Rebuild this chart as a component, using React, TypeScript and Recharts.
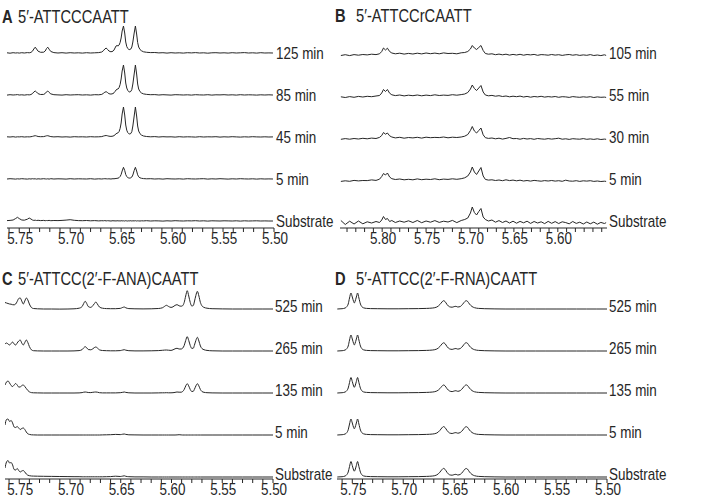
import { LineChart, Line, XAxis, YAxis } from "recharts";

const FONT = "'Liberation Sans', Arial, sans-serif";
const INK = "#262626";
const STEP = 42;
const SX = 0.84; // the figure uses a condensed sans, so squeeze the glyphs a bit

// ---- Panel A: 5'-ATTCCCAATT ----
const ppmA = [
  5.762, 5.759, 5.756, 5.7535, 5.7517, 5.75, 5.7475, 5.745, 5.742, 5.7402,
  5.7385, 5.737, 5.7357, 5.7343, 5.733, 5.7315, 5.729, 5.726, 5.7245, 5.7232,
  5.722, 5.7207, 5.719, 5.716, 5.712, 5.708, 5.704, 5.7, 5.696, 5.692,
  5.688, 5.684, 5.68, 5.676, 5.672, 5.669, 5.6675, 5.666, 5.6647, 5.6633,
  5.662, 5.66, 5.658, 5.657, 5.656, 5.655, 5.654, 5.653, 5.652, 5.651,
  5.65, 5.649, 5.6477, 5.6465, 5.6455, 5.6445, 5.6435, 5.6425, 5.6415, 5.6405,
  5.6395, 5.6385, 5.6372, 5.636, 5.6348, 5.6338, 5.6328, 5.6315, 5.63, 5.628,
  5.625, 5.621, 5.617, 5.613, 5.609, 5.605, 5.601, 5.597, 5.593, 5.589,
  5.585, 5.581, 5.577, 5.573, 5.569, 5.565, 5.561, 5.557, 5.553, 5.549,
  5.545, 5.541, 5.537, 5.533, 5.529, 5.525, 5.521, 5.517, 5.513, 5.509,
  5.505, 5.501,
];
const aSub = [
  0.4, 0.6, 1, 2.5, 3.7, 2.4, 1, 0.8, 1.8, 3,
  2, 1, 0.6, 0.8, 0.5, 0.7, 0.4, 0.6, 0.3, 0.5,
  0.4, 0.6, 0.3, 0.5, 0.4, 0.6, 0.9, 1.3, 0.7, 0.4,
  0.3, 0.5, 0.2, 0.4, 0.1, 0.3, 0.2, 0.4, 0.1, 0.3,
  0.2, 0, 0.3, 0.1, 0.2, 0, 0.3, 0.1, 0.2, 0,
  0.3, 0.1, 0.2, 0, 0.3, 0.1, 0, 0.2, 0.1, 0.3,
  0, 0.2, 0.1, 0.3, 0, 0.2, 0.1, 0, 0.2, 0.1,
  0.3, 0, 0.2, 0.1, -0.1, 0.2, 0, 0.3, 0.1, 0,
  0.2, 0.1, 0.3, 0, 0.2, -0.1, 0.2, 0.1, 0, 0.2,
  0.1, 0, 0.2, -0.1, 0.2, 0, 0.1, 0.2, 0, 0.1,
  0, 0,
];
const a5 = [
  0, 0.3, 0.1, -0.1, 0.2, 0, 0.3, 0.1, -0.1, 0.2,
  0, 0.3, 0.1, 0.2, -0.1, 0.2, 0, 0.3, 0.1, 0,
  0.2, -0.1, 0.3, 0, 0.2, 0.1, -0.1, 0.3, 0, 0.2,
  0.1, 0, 0.3, -0.1, 0.2, 0, 0.2, 0.3, 0.2, 0.1,
  0.2, 0, 0.3, 0.2, 0.4, 0.5, 0.7, 0.8, 1.4, 2.5,
  4.5, 8, 11.7, 8.5, 4.5, 2.4, 1.5, 1, 0.9, 1.2,
  2, 4, 8.5, 11.7, 8, 4.2, 2.2, 1.2, 0.7, 0.4,
  0.2, 0.3, 0, 0.2, -0.1, 0.3, 0.1, 0, 0.2, -0.1,
  0.3, 0.1, 0, 0.2, 0.3, -0.1, 0.2, 0, 0.3, 0.1,
  -0.1, 0.2, 0, 0.3, 0.1, 0, 0.2, -0.1, 0.2, 0,
  0.1, 0,
];
const a45 = [
  0.2, 0, 0.3, -0.1, 0.2, 0.1, 0.3, 0, 0.2, 0.1,
  0.3, 0.6, 1, 1.3, 1, 0.5, 0.3, 0.4, 0.8, 1.2,
  1.3, 0.9, 0.4, 0.1, 0.3, 0, 0.2, -0.1, 0.3, 0.1,
  0.2, 0, 0.3, 0.1, 0.2, 0.4, 0.9, 1.3, 1.5, 1.2,
  0.8, 0.6, 0.9, 1.4, 2.2, 3.2, 3.8, 4.2, 5.5, 8.5,
  14, 23, 30, 22, 12, 6.8, 4.4, 3.3, 3, 3.5,
  5.4, 11, 21, 30, 21, 11, 6, 3.3, 1.9, 1,
  0.5, 0.2, 0.4, 0, 0.3, 0.1, 0.2, -0.1, 0.3, 0,
  0.2, 0.1, -0.1, 0.3, 0, 0.2, 0.1, 0.3, -0.1, 0.2,
  0, 0.3, 0.1, -0.1, 0.2, 0, 0.3, 0.1, 0, 0.2,
  0, 0.1,
];
const a85 = [
  -0.1, 0.3, 0, 0.2, 0.4, 0, 0.2, -0.1, 0.3, 0.1,
  0.5, 1.4, 3, 4, 3, 1.3, 0.5, 0.6, 1.5, 3.2,
  4, 2.6, 1.1, 0.3, 0.1, -0.1, 0.3, 0, 0.2, 0.3,
  0, 0.2, -0.1, 0.3, 0.2, 0.6, 1.6, 2.8, 3.3, 2.4,
  1.3, 0.9, 1.4, 2.2, 3.5, 5, 5.8, 6, 7.5, 10.5,
  16, 24, 30, 22, 12, 7, 4.6, 3.3, 3, 3.6,
  5.5, 11, 21, 30, 21, 11, 6, 3.4, 2, 1.1,
  0.6, 0.3, 0.4, 0, 0.3, 0.1, -0.1, 0.3, 0.2, 0,
  0.2, -0.1, 0.3, 0.1, 0, 0.3, -0.1, 0.2, 0.1, 0.3,
  0, 0.2, -0.1, 0.3, 0, 0.2, 0.1, -0.1, 0.2, 0,
  0.2, 0,
];
const a125 = [
  0.2, -0.2, 0.3, 0, 0.2, -0.1, 0.3, 0, 0.4, 0.2,
  0.6, 1.8, 4, 5.8, 4, 1.8, 0.7, 0.8, 2, 4.5,
  5.8, 3.8, 1.5, 0.4, 0, 0.3, -0.1, 0.3, 0, 0.2,
  -0.1, 0.3, 0, 0.2, 0.4, 1, 2.2, 4, 5, 3.5,
  2, 1.2, 1.8, 3, 5, 7, 7.5, 7, 8, 10.5,
  15, 22, 27, 20, 11, 6.5, 4.5, 3.6, 3.4, 4,
  6, 11, 20, 27, 19, 10.5, 6, 3.5, 2.2, 1.2,
  0.7, 0.4, 0.5, 0.1, 0.3, -0.1, 0.3, 0, 0.2, -0.1,
  0.3, 0.1, 0.4, 0, 0.2, -0.2, 0.2, 0.3, 0, 0.2,
  -0.1, 0.3, 0, 0.2, 0.4, 0, 0.2, -0.1, 0.3, 0,
  0.1, 0,
];
const namesA = ["Substrate", "5 min", "45 min", "85 min", "125 min"];
const labelsA = ["5.75", "5.70", "5.65", "5.60", "5.55", "5.50"];

// ---- Panel B: 5'-ATTCCrCAATT ----
const ppmB = [
  5.847, 5.842, 5.837, 5.832, 5.827, 5.822, 5.817, 5.812, 5.807, 5.803,
  5.8005, 5.7985, 5.7962, 5.794, 5.7915, 5.789, 5.785, 5.78, 5.775, 5.77,
  5.765, 5.76, 5.755, 5.75, 5.745, 5.74, 5.735, 5.73, 5.725, 5.72,
  5.715, 5.71, 5.706, 5.7025, 5.6995, 5.6974, 5.695, 5.6925, 5.69, 5.6875,
  5.685, 5.6825, 5.679, 5.675, 5.671, 5.667, 5.663, 5.659, 5.655, 5.651,
  5.647, 5.643, 5.639, 5.635, 5.631, 5.627, 5.623, 5.619, 5.615, 5.611,
  5.607, 5.603, 5.599, 5.595, 5.591, 5.587, 5.583, 5.579, 5.575, 5.571,
  5.567, 5.563, 5.559, 5.555, 5.551, 5.547, 5.545,
];
const bSub = [
  2.5, -1.5, 1.8, -1, 2, -0.8, 1.2, 0, 1.5, 0.5,
  3, 6.5, 3.5, 4.5, 1.5, 2.5, 0.5, 2, 0.8, 2.2,
  0.5, 2.5, 0.3, 2, 0.8, 2.4, 0.6, 1.8, 1, 2.6,
  0.4, 2.5, 3.5, 5, 10, 16, 10.5, 8, 11.5, 14.5,
  6, 3.5, 2, 3, 0.8, 2.4, 0.5, 2, 0, 1.8,
  -0.2, 1.6, 0.2, 1.8, -0.4, 1.5, 0, 1.2, -0.6, 1.6,
  -0.3, 1.4, -0.5, 1.2, 0.4, -0.8, 1.5, -0.4, 0.8, -1,
  1, -0.8, 0.9, -1.2, 0.6, -0.5, 0.3,
];
const b5 = [
  -0.4, 0.2, -0.3, 0.6, 0.1, 0.5, 0.4, 1.1, 0.6, 1.8,
  4.5, 7.5, 6, 8, 4, 2.3, 1.5, 2, 1.2, 1.7,
  1.2, 2.1, 1.3, 1.8, 1.5, 2.2, 1.3, 1.9, 1.6, 2.2,
  1.7, 2.3, 3.2, 5, 9, 14, 9, 6.5, 10, 13.5,
  5, 1.6, 0.9, 1.2, 0.5, 1, 0.3, 1.2, 0.4, 0.9,
  0.2, 0.8, 0, 0.5, -0.1, 0.6, 0.2, -0.2, 0.4, 0,
  0.5, -0.1, 0.3, -0.3, 0.8, 0, -0.2, 0.3, -0.4, 0.2,
  -0.1, 0.3, -0.4, 0, -0.5, -0.2, -0.4,
];
const b30 = [
  -0.3, 0.4, -0.2, 0.5, 0, 0.7, 0.2, 0.9, 0.5, 1.6,
  3.5, 6.5, 4.8, 6, 3.2, 2, 1.1, 1.7, 0.8, 1.5,
  1.1, 1.7, 0.9, 1.8, 1.3, 1.6, 1.4, 2, 1.2, 1.8,
  1.5, 2, 2.8, 4.5, 8.5, 12.5, 8, 6, 8.5, 11,
  4.2, 1.3, 0.6, 1, 0.2, 0.8, -0.1, 0.6, 1.5, 0.3,
  0.5, -0.2, 0.6, 0, 0.4, -0.3, 0.5, 0.1, -0.2, 0.4,
  -0.1, 0.3, 0.8, -0.2, 0.2, -0.4, 0.3, 0, -0.2, 0.4,
  -0.3, 0.1, -0.4, 0.2, -0.5, -0.1, -0.3,
];
const b55 = [
  0.2, -0.5, 0.4, -0.3, 0.6, 0, 0.7, 0.3, 1, 1.5,
  4, 7.5, 5.5, 7.5, 3.8, 2.2, 1.4, 2, 1.1, 1.8,
  1.3, 2, 1.2, 1.9, 1.4, 2.2, 1.5, 1.9, 1.6, 2.3,
  1.8, 2.4, 3, 4.5, 8, 12, 8.5, 6.5, 9, 11.5,
  5, 2, 1.2, 1.6, 0.8, 1.3, 0.5, 1, 0.2, 0.8,
  0.3, 0.9, 0, 0.6, -0.2, 0.5, 0.1, 0.7, -0.1, 0.4,
  0, 0.5, -0.3, 0.3, 0.1, -0.4, 0.4, 0, -0.3, 0.2,
  -0.2, 0.3, -0.5, 0.1, -0.3, -0.1, -0.4,
];
const b105 = [
  -0.5, 0.3, -0.6, 0.4, -0.2, 0.5, 0.1, 0.8, 0.4, 1.2,
  3.5, 7, 5, 6.8, 3.5, 2, 1.2, 1.8, 0.9, 1.6,
  1, 1.8, 1.1, 2, 1.3, 1.9, 1.2, 2.1, 1.5, 1.7,
  1.2, 2.2, 2.5, 3.5, 6, 9.5, 7, 5.5, 7.5, 9.5,
  4.5, 1.5, 0.8, 1.2, 0.3, 0.9, 0.2, 0.8, -0.1, 0.6,
  0, 0.7, -0.2, 0.5, 0.1, 0.6, -0.3, 0.4, 0.2, -0.2,
  0.5, -0.1, 0.3, -0.4, 0.2, 0.5, -0.2, 0.3, -0.4, 0.1,
  -0.3, 0.4, -0.5, 0, -0.6, 0.2, -0.4,
];
const namesB = ["Substrate", "5 min", "30 min", "55 min", "105 min"];
const labelsB = ["5.80", "5.75", "5.70", "5.65", "5.60"];

// ---- Panel C: 5'-ATTCC(2'-F-ANA)CAATT ----
const ppmC = [
  5.764, 5.7625, 5.761, 5.7595, 5.758, 5.7565, 5.755, 5.7535, 5.752, 5.7505,
  5.749, 5.7475, 5.746, 5.7445, 5.743, 5.7415, 5.74, 5.738, 5.736, 5.732,
  5.726, 5.718, 5.71, 5.702, 5.696, 5.691, 5.688, 5.6865, 5.685, 5.6835,
  5.682, 5.6795, 5.6775, 5.676, 5.6745, 5.673, 5.671, 5.668, 5.664, 5.66,
  5.655, 5.6505, 5.648, 5.6465, 5.645, 5.642, 5.636, 5.628, 5.62, 5.613,
  5.609, 5.607, 5.605, 5.603, 5.6005, 5.5985, 5.5965, 5.5945, 5.5925, 5.5905,
  5.589, 5.5875, 5.586, 5.5845, 5.583, 5.5815, 5.58, 5.5785, 5.5775, 5.576,
  5.5745, 5.573, 5.5715, 5.57, 5.568, 5.565, 5.56, 5.55, 5.54, 5.53,
  5.52, 5.51, 5.5,
];
const cSub = [
  9, 15, 16.5, 14, 14.5, 12, 7.5, 7, 8.5, 6.5,
  5, 6, 6.5, 5, 3, 1.8, 1.3, 1, 0.9, 0.8,
  0.7, 0.6, 0.5, 0.4, 0.3, 0.3, 0.2, 0.2, 0.2, 0.2,
  0.2, 0.2, 0.2, 0.2, 0.2, 0.2, 0.2, 0.2, 0.3, 0.4,
  0.8, 0.5, 0.9, 1.2, 0.7, 0.3, 0.1, 0.1, 0, 0,
  0, 0, 0, 0, 0, 0, 0, 0, 0, 0,
  0, 0, 0, 0, 0, 0, 0, 0, 0, 0,
  0, 0, 0, 0, 0, 0, 0, 0, 0, 0,
  0, 0, 0,
];
const c5 = [
  10, 15.5, 16, 13.5, 14.5, 12, 8, 7.5, 8.5, 7,
  5.5, 6.5, 7, 5.5, 3, 1.2, 0.6, 0.2, 0.1, 0,
  0, 0, 0, 0, 0, 0, 0, 0, 0, 0,
  0, 0, 0, 0, 0, 0, 0, 0.1, 0.2, 0.3,
  0.6, 0.4, 0.8, 1, 0.6, 0.2, 0.1, 0, 0, 0,
  0, 0, 0, 0, 0, 0, 0, 0.1, 0.3, 0.1,
  0, 0, 0, 0, 0, 0, 0, 0, 0, 0,
  0, 0, 0, 0, 0, 0, 0, 0, 0, 0,
  0, 0, 0,
];
const c135 = [
  8, 11, 12, 10, 7.5, 6.5, 8, 9.5, 8, 6,
  6, 7.5, 8, 6.5, 4.5, 2.5, 1.2, 0.4, 0.2, 0.1,
  0, 0, 0, 0, 0, 0.1, 0.4, 0.8, 1, 0.8,
  0.5, 0.4, 0.7, 0.9, 1, 0.8, 0.3, 0.1, 0.1, 0.1,
  0.1, 0.3, 0.7, 1, 0.6, 0.2, 0, 0, 0, 0.1,
  0.2, 0.2, 0.3, 0.2, 0.2, 0.3, 0.6, 1, 0.8, 0.8,
  1.5, 3.5, 7, 9.3, 7, 3.5, 1.5, 1.7, 3.5, 7,
  9.3, 7, 3.5, 1.5, 0.7, 0.3, 0.1, 0, 0, 0,
  0, 0, 0,
];
const c265 = [
  7, 8, 7, 6, 7.5, 9, 7, 6, 8, 10,
  11, 8, 6, 8.5, 11, 8.5, 4.5, 1.2, 0.3, 0.1,
  0, 0, 0, 0, 0.1, 0.4, 1.4, 3.2, 4.3, 3.2,
  1.5, 1.2, 2.2, 3.4, 4, 3, 1.2, 0.5, 0.3, 0.2,
  0.2, 0.4, 1, 1.3, 0.8, 0.3, 0.1, 0.1, 0.2, 0.4,
  0.7, 0.9, 1, 0.8, 0.6, 1.2, 2.2, 2.7, 2, 2,
  2.8, 5.5, 10.5, 14.3, 10.5, 5.5, 2.6, 2.8, 5.5, 10.5,
  13.7, 10, 5, 2.5, 1.3, 0.6, 0.2, 0, 0, 0,
  0, 0, 0,
];
const c525 = [
  6.5, 6, 5.5, 5, 4.8, 4.3, 4.2, 5, 7.5, 10.5,
  11, 8, 5, 8, 11, 9, 5, 1.5, 0.5, 0.2,
  0, 0, -0.1, 0, 0.2, 0.8, 2.5, 5.5, 7.7, 5.5,
  2.5, 1.6, 3.3, 5.3, 7, 5, 2, 0.8, 0.4, 0.3,
  0.3, 0.6, 1.6, 2, 1.2, 0.4, 0.2, 0.1, 0.2, 0.5,
  1.2, 2.5, 3.7, 2.6, 1.6, 2.2, 3.6, 4.3, 3.2, 2.8,
  3.3, 6.5, 13, 18.3, 13, 6.5, 3, 3.5, 7, 13.5,
  17.7, 13, 6.5, 3.2, 1.6, 0.8, 0.3, 0.1, 0, 0,
  0, 0, 0,
];
const namesC = ["Substrate", "5 min", "135 min", "265 min", "525 min"];
const labelsC = ["5.75", "5.70", "5.65", "5.60", "5.55", "5.50"];

// ---- Panel D: 5'-ATTCC(2'-F-RNA)CAATT ----
const ppmD = [
  5.7647, 5.76, 5.757, 5.7555, 5.754, 5.7527, 5.7513, 5.75, 5.7487, 5.748,
  5.7473, 5.746, 5.7448, 5.7435, 5.742, 5.7405, 5.739, 5.736, 5.732, 5.725,
  5.715, 5.705, 5.695, 5.685, 5.677, 5.671, 5.667, 5.664, 5.662, 5.6605,
  5.659, 5.657, 5.6545, 5.652, 5.65, 5.6483, 5.6465, 5.644, 5.6415, 5.6395,
  5.6382, 5.637, 5.635, 5.6325, 5.63, 5.626, 5.62, 5.61, 5.6, 5.59,
  5.58, 5.57, 5.56, 5.55, 5.54, 5.53, 5.52, 5.51, 5.5,
];
const dSub = [
  0, 0.3, 1, 2.2, 5, 10.5, 15.5, 11.5, 7, 5.8,
  7, 11.5, 15.5, 10.5, 4.8, 2.1, 1.1, 0.6, 0.4, 0.3,
  0.2, 0.2, 0.3, 0.4, 0.6, 1, 2.1, 4.8, 7.4, 8.6,
  7.7, 4.6, 2.2, 1.8, 2.4, 2.7, 2, 2.6, 5.2, 7.8,
  8.5, 8, 5.1, 2.5, 1.3, 0.6, 0.3, 0.1, 0, 0,
  0, 0, 0, 0, 0, 0, 0, 0, 0,
];
const d5 = [
  0, 0.3, 1, 2.2, 5.2, 11, 16, 12, 7.5, 6.2,
  7.5, 12, 16, 11, 5, 2.2, 1.2, 0.6, 0.4, 0.3,
  0.2, 0.2, 0.3, 0.4, 0.6, 1, 2, 4.6, 7.2, 8.4,
  7.5, 4.5, 2, 1.5, 2.1, 2.4, 1.8, 2.5, 5, 7.6,
  8.3, 7.8, 5, 2.5, 1.3, 0.6, 0.3, 0.1, 0, 0,
  0, 0, 0, 0, 0, 0, 0, 0, 0,
];
const d135 = [
  0, 0.3, 1, 2.2, 5, 10.5, 15.5, 11.5, 7, 5.7,
  7, 11.5, 15.5, 10.5, 4.8, 2.1, 1.1, 0.6, 0.4, 0.3,
  0.2, 0.2, 0.3, 0.4, 0.6, 1, 2, 4.4, 6.8, 8,
  7.2, 4.3, 2, 1.4, 2, 2.3, 1.7, 2.4, 5, 7.4,
  8.1, 7.6, 4.9, 2.4, 1.2, 0.6, 0.3, 0.1, 0, 0,
  0, 0, 0, 0, 0, 0, 0, 0, 0,
];
const d265 = [
  0, 0.3, 1, 2.2, 5, 11, 16, 12, 7.5, 6,
  7.5, 12, 16, 11, 5, 2.2, 1.2, 0.6, 0.4, 0.3,
  0.2, 0.2, 0.3, 0.4, 0.6, 1, 2, 4.5, 7, 8.2,
  7.4, 4.4, 2.1, 1.6, 2.2, 2.5, 1.9, 2.5, 5, 7.6,
  8.3, 7.8, 5, 2.5, 1.3, 0.6, 0.3, 0.1, 0, 0,
  0, 0, 0, 0, 0, 0, 0, 0, 0,
];
const d525 = [
  0, 0.3, 1, 2.2, 5, 11, 16, 12, 7.5, 6,
  7.5, 12, 16, 11, 5, 2.2, 1.2, 0.6, 0.4, 0.3,
  0.2, 0.2, 0.3, 0.4, 0.6, 1, 2, 4.5, 7, 8.3,
  7.5, 4.5, 2.2, 1.8, 2.4, 2.7, 2, 2.5, 5, 7.5,
  8.3, 7.8, 5, 2.5, 1.3, 0.6, 0.3, 0.1, 0, 0,
  0, 0, 0, 0, 0, 0, 0, 0, 0,
];
const namesD = ["Substrate", "5 min", "135 min", "265 min", "525 min"];
const labelsD = ["5.75", "5.70", "5.65", "5.60", "5.55", "5.50"];

// narrow-looking text: Liberation Sans squeezed horizontally around its anchor
function Squeezed({ x, y, anchor, size, bold, children }: any) {
  return (
    <g transform={`translate(${x},${y}) scale(${SX},1)`}>
      <text
        x={0}
        y={0}
        textAnchor={anchor}
        fontSize={size}
        fontFamily={FONT}
        fontWeight={bold ? "bold" : "normal"}
        fill={INK}
      >
        {children}
      </text>
    </g>
  );
}

type PanelProps = {
  left: number;
  top: number;
  marginTop: number;
  marginLeft: number;
  plotW: number;
  plotH: number;
  xHeight: number;
  domain: [number, number];
  ppm: number[];
  traces: number[][];
  names: string[];
  labels: string[];
  base: number;
  labelDy: number;
  curve: "linear" | "monotone";
};

function Spectra(p: PanelProps) {
  const data = p.ppm.map((x, i) => {
    const row: Record<string, number> = { ppm: x };
    p.traces.forEach((t, k) => {
      row["s" + k] = (t[i] ?? 0) + p.base + STEP * k;
    });
    return row;
  });
  const offsets = p.traces.map((_, k) => p.base + STEP * k);
  const ticks: number[] = [];
  for (let v = Math.ceil(p.domain[0] * 100 - 1e-6); v <= Math.floor(p.domain[1] * 100 + 1e-6); v++) {
    ticks.push(v / 100);
  }
  const width = p.marginLeft + p.plotW + 80;
  const height = p.marginTop + p.plotH + p.xHeight;

  const xTick = (t: any) => {
    const s = Number(t.payload.value).toFixed(2);
    if (!p.labels.includes(s)) return <g />;
    return (
      <Squeezed x={t.x + 1} y={t.y + 11.5} anchor="middle" size={16}>
        {s}
      </Squeezed>
    );
  };
  const yTick = (t: any) => {
    const name = p.names[offsets.indexOf(t.payload.value)] ?? "";
    return (
      <Squeezed x={t.x} y={t.y + 5.8 + p.labelDy} anchor="start" size={16}>
        {name}
      </Squeezed>
    );
  };

  return (
    <div style={{ position: "absolute", left: p.left, top: p.top }}>
      <LineChart
        width={width}
        height={height}
        data={data}
        margin={{ top: p.marginTop, left: p.marginLeft, right: 0, bottom: 0 }}
      >
        <XAxis
          dataKey="ppm"
          type="number"
          domain={p.domain}
          reversed
          allowDataOverflow
          ticks={ticks}
          interval={0}
          height={p.xHeight}
          tickSize={4}
          tickMargin={0}
          axisLine={{ stroke: INK }}
          tickLine={{ stroke: INK }}
          tick={xTick}
        />
        <YAxis
          orientation="right"
          type="number"
          domain={[0, p.plotH]}
          allowDataOverflow
          ticks={offsets}
          interval={0}
          width={80}
          axisLine={false}
          tickLine={false}
          tickSize={0}
          tickMargin={2}
          tick={yTick}
        />
        {p.traces.map((_, k) => (
          <Line
            key={k}
            type={p.curve}
            dataKey={"s" + k}
            stroke={INK}
            strokeWidth={1}
            dot={false}
            activeDot={false}
            isAnimationActive={false}
          />
        ))}
      </LineChart>
    </div>
  );
}

export default function App() {
  return (
    <div
      style={{
        position: "absolute",
        left: 0,
        top: 0,
        width: 710,
        height: 498,
        background: "#fff",
        overflow: "hidden",
      }}
    >
      <Spectra
        left={0}
        top={0}
        marginTop={20}
        marginLeft={7}
        plotW={267}
        plotH={208}
        xHeight={22}
        domain={[5.5, 5.762]}
        ppm={ppmA}
        traces={[aSub, a5, a45, a85, a125]}
        names={namesA}
        labels={labelsA}
        base={7}
        labelDy={0}
        curve="linear"
      />
      <Spectra
        left={333}
        top={0}
        marginTop={20}
        marginLeft={7}
        plotW={267}
        plotH={208}
        xHeight={22}
        domain={[5.544, 5.848]}
        ppm={ppmB}
        traces={[bSub, b5, b30, b55, b105]}
        names={namesB}
        labels={labelsB}
        base={5}
        labelDy={-2}
        curve="linear"
      />
      <Spectra
        left={0}
        top={250}
        marginTop={20}
        marginLeft={5}
        plotW={268}
        plotH={209}
        xHeight={19}
        domain={[5.5, 5.764]}
        ppm={ppmC}
        traces={[cSub, c5, c135, c265, c525]}
        names={namesC}
        labels={labelsC}
        base={2}
        labelDy={-3}
        curve="monotone"
      />
      <Spectra
        left={330}
        top={250}
        marginTop={20}
        marginLeft={7}
        plotW={270}
        plotH={209}
        xHeight={19}
        domain={[5.5, 5.765]}
        ppm={ppmD}
        traces={[dSub, d5, d135, d265, d525]}
        names={namesD}
        labels={labelsD}
        base={2}
        labelDy={-3}
        curve="monotone"
      />
      <svg
        width={710}
        height={498}
        style={{ position: "absolute", left: 0, top: 0, pointerEvents: "none" }}
      >
        <Squeezed x={2} y={22.5} anchor="start" size={17.5} bold>A</Squeezed>
        <Squeezed x={18} y={22.5} anchor="start" size={17.5}>5′-ATTCCCAATT</Squeezed>
        <Squeezed x={335} y={22} anchor="start" size={17.5} bold>B</Squeezed>
        <Squeezed x={356} y={22} anchor="start" size={17.5}>5′-ATTCCrCAATT</Squeezed>
        <Squeezed x={2} y={285} anchor="start" size={17.5} bold>C</Squeezed>
        <Squeezed x={18} y={285} anchor="start" size={17.5}>5′-ATTCC(2′-F-ANA)CAATT</Squeezed>
        <Squeezed x={335} y={285} anchor="start" size={17.5} bold>D</Squeezed>
        <Squeezed x={356} y={285} anchor="start" size={17.5}>5′-ATTCC(2′-F-RNA)CAATT</Squeezed>
      </svg>
    </div>
  );
}
